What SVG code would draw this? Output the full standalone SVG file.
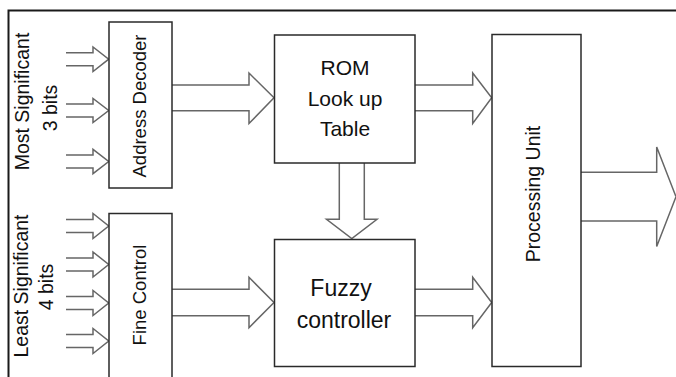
<svg xmlns="http://www.w3.org/2000/svg" width="676" height="377" viewBox="0 0 676 377">
  <style>
    .box { fill: #fff; stroke: #2a2a2a; stroke-width: 1.5; }
    .frame { fill: none; stroke: #1a1a1a; stroke-width: 2; }
    .arrow { fill: #fff; stroke: #666; stroke-width: 1.5; stroke-linejoin: miter; }
    .lbl { font-family: "Liberation Sans", Arial, sans-serif; fill: #111; text-anchor: middle; }
  </style>
  <rect width="676" height="377" fill="#fff"/>

  <!-- page frame (top and left edges) -->
  <path class="frame" d="M8.5,378 V10.5 H676"/>

  <!-- side labels -->
  <g id="msb-label">
    <text class="lbl" font-size="19.5" transform="translate(28.5,101.5) rotate(-90)">Most Significant</text>
    <text class="lbl" font-size="19.5" transform="translate(57,108) rotate(-90)">3 bits</text>
  </g>
  <g id="lsb-label">
    <text class="lbl" font-size="19.5" transform="translate(27.5,286) rotate(-90)">Least Significant</text>
    <text class="lbl" font-size="19.5" transform="translate(52.5,287) rotate(-90)">4 bits</text>
  </g>

  <!-- connectors: hollow block arrows -->
  <g id="connectors">
    <!-- MSB inputs -->
    <polyline class="arrow" points="66,52.7 93,52.7 93,47 108.7,59.2 93,71.5 93,65.7 66,65.7"/>
    <polyline class="arrow" points="66,104 93,104 93,98.5 108.7,110.5 93,122.5 93,117 66,117"/>
    <polyline class="arrow" points="66,155 93,155 93,149.3 108.7,161.5 93,173.7 93,168 66,168"/>
    <!-- LSB inputs -->
    <polyline class="arrow" points="66,219.5 93,219.5 93,213.5 108.7,226 93,238.5 93,232.5 66,232.5"/>
    <polyline class="arrow" points="66,258 93,258 93,252 108.7,264.5 93,277 93,271 66,271"/>
    <polyline class="arrow" points="66,296.5 93,296.5 93,290.5 108.7,303 93,315.5 93,309.5 66,309.5"/>
    <polyline class="arrow" points="66,334.5 93,334.5 93,328.5 108.7,341 93,353.5 93,347.5 66,347.5"/>
    <!-- Address Decoder to ROM -->
    <polyline class="arrow" points="172,85 249,85 249,73 274,97.8 249,123.5 249,110.7 172,110.7"/>
    <!-- ROM to Processing Unit -->
    <polyline class="arrow" points="415,85 472.7,85 472.7,73 491.7,97.8 472.7,123.5 472.7,110.7 415,110.7"/>
    <!-- Fine Control to Fuzzy controller -->
    <polyline class="arrow" points="172,289.3 249,289.3 249,277.3 274,302.5 249,327.7 249,315.7 172,315.7"/>
    <!-- Fuzzy controller to Processing Unit -->
    <polyline class="arrow" points="415,289.3 472.7,289.3 472.7,277.3 491.7,302.5 472.7,327.7 472.7,315.7 415,315.7"/>
    <!-- ROM down to Fuzzy controller -->
    <polyline class="arrow" points="339.3,163 339.3,219.3 326.5,219.3 351.8,238.5 377,219.3 364.3,219.3 364.3,163"/>
    <!-- output -->
    <polyline class="arrow" points="581,172.3 656.7,172.3 656.7,147 676,196.7 656.7,246.5 656.7,221 581,221"/>
  </g>

  <g id="address-decoder">
    <rect class="box" x="109" y="22" width="63" height="166"/>
    <text class="lbl" font-size="18.5" transform="translate(146,106) rotate(-90)">Address Decoder</text>
  </g>

  <g id="fine-control">
    <rect class="box" x="109" y="213.5" width="63" height="170"/>
    <text class="lbl" font-size="18.5" transform="translate(146,295) rotate(-90)">Fine Control</text>
  </g>

  <g id="rom-table">
    <rect class="box" x="274.5" y="35" width="140.5" height="128"/>
    <text class="lbl" font-size="21" x="345" y="75">ROM</text>
    <text class="lbl" font-size="21" x="345" y="106">Look up</text>
    <text class="lbl" font-size="21" x="345" y="136">Table</text>
  </g>

  <g id="fuzzy-controller">
    <rect class="box" x="274.5" y="239.5" width="140.5" height="127"/>
    <text class="lbl" font-size="23" x="341" y="296">Fuzzy</text>
    <text class="lbl" font-size="23" x="344" y="327.5">controller</text>
  </g>

  <g id="processing-unit">
    <rect class="box" x="492" y="34.5" width="89" height="332"/>
    <text class="lbl" font-size="19.5" transform="translate(540,194) rotate(-90)">Processing Unit</text>
  </g>
</svg>
